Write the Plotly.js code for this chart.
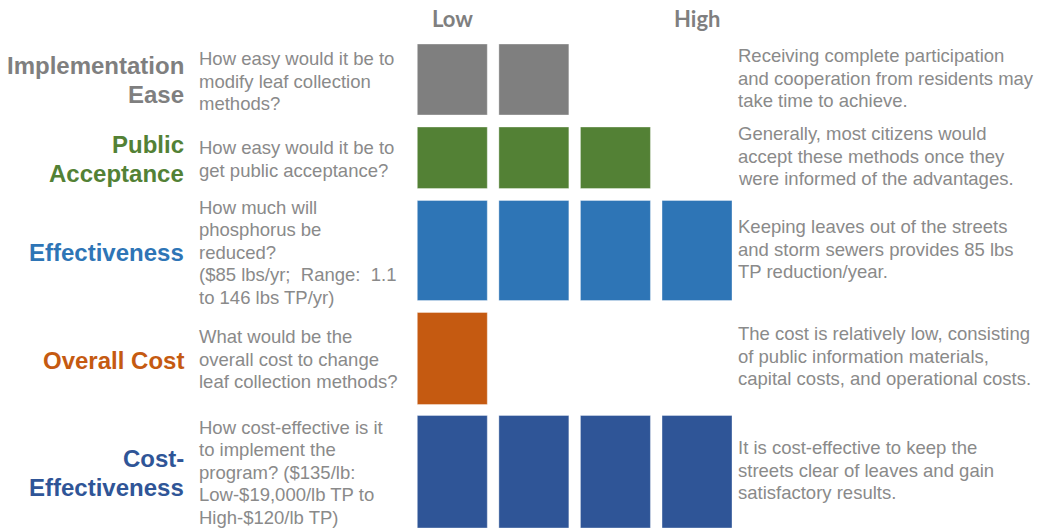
<!DOCTYPE html>
<html>
<head>
<meta charset="utf-8">
<script src="https://cdn.plot.ly/plotly-3.0.1.min.js"></script>
<style>html,body{margin:0;padding:0;background:#fff;}#chart{width:1037px;height:531px;}</style>
</head>
<body>
<div id="chart"></div>
<script>
// ---- data ----
var categories = ["Implementation<br>Ease", "Public<br>Acceptance", "Effectiveness", "Overall Cost", "Cost-<br>Effectiveness"];
var scores = [2, 3, 4, 1, 4];
var levelLabels = ["Low", "High"];
var questions = [
  "How easy would it be to<br>modify leaf collection<br>methods?",
  "How easy would it be to<br>get public acceptance?",
  "How much will<br>phosphorus be<br>reduced?<br>($85 lbs/yr;\u00a0 Range:\u00a0 1.1<br>to 146 lbs TP/yr)",
  "What would be the<br>overall cost to change<br>leaf collection methods?",
  "How cost-effective is it<br>to implement the<br>program? ($135/lb:<br>Low-$19,000/lb TP to<br>High-$120/lb TP)"
];
var comments = [
  "Receiving complete participation<br>and cooperation from residents may<br>take time to achieve.",
  "Generally, most citizens would<br>accept these methods once they<br>were informed of the advantages.",
  "Keeping leaves out of the streets<br>and storm sewers provides 85 lbs<br>TP reduction/year.",
  "The cost is relatively low, consisting<br>of public information materials,<br>capital costs, and operational costs.",
  "It is cost-effective to keep the<br>streets clear of leaves and gain<br>satisfactory results."
];

// ---- layout / style ----
var colors = ["#7f7f7f", "#538135", "#2e75b6", "#c55a11", "#2f5597"];
var rowTop = [44, 127, 200.5, 312.5, 415.5];
var rowBottom = [115, 188.5, 300.5, 404.5, 528];
var labelMid = [80, 159, 252, 360, 473];
var questionMid = [81, 159, 252, 359, 472];
var commentMid = [78, 156, 249, 356, 470];
var W = 1037, H = 531;
var FONT = "Liberation Sans, Arial, sans-serif";

var traces = [];
for (var i = 0; i < categories.length; i++) {
  var xs = [], bases = [], hs = [];
  for (var k = 1; k <= scores[i]; k++) {
    xs.push(k); bases.push(rowTop[i]); hs.push(rowBottom[i] - rowTop[i]);
  }
  traces.push({
    type: "bar", x: xs, y: hs, base: bases, width: 0.858,
    marker: {color: colors[i], line: {color: "rgba(255,255,255,0.35)", width: 1}},
    hoverinfo: "skip", showlegend: false
  });
}

var textGray = "#8a8a8a";
var annotations = [];
function addLines(text, xpx, mid, gap, anchor, font) {
  var lines = text.split("<br>");
  var n = lines.length;
  for (var j = 0; j < n; j++) {
    annotations.push({
      xref: "paper", yref: "y", x: xpx / W, y: mid + (j - (n - 1) / 2) * gap,
      xanchor: anchor, yanchor: "middle", align: anchor, text: lines[j],
      showarrow: false, borderpad: 0, font: font
    });
  }
}
for (var i = 0; i < categories.length; i++) {
  addLines("<b>" + categories[i].split("<br>").join("</b><br><b>") + "</b>", 185, labelMid[i], 28.5, "right",
    {family: FONT, size: 24, color: colors[i]});
  addLines(questions[i], 198, questionMid[i], 22.5, "left",
    {family: FONT, size: 18.5, color: textGray});
  addLines(comments[i], 737, commentMid[i], 22.8, "left",
    {family: FONT, size: 18.5, color: textGray});
}
annotations.push({
  xref: "x", yref: "y", x: 1, y: 18, xanchor: "center", yanchor: "middle",
  text: "<b>" + levelLabels[0] + "</b>", showarrow: false,
  font: {family: "Lato, Open Sans, sans-serif", size: 22, color: "#7f7f7f"}
});
annotations.push({
  xref: "x", yref: "y", x: 4, y: 18, xanchor: "center", yanchor: "middle",
  text: "<b>" + levelLabels[1] + "</b>", showarrow: false,
  font: {family: "Lato, Open Sans, sans-serif", size: 22, color: "#7f7f7f"}
});

// x: level 1 centre at 452.3px, pitch 81.57px
var pitch = 81.57, x0px = 452.3 - pitch;
var layout = {
  width: W, height: H,
  margin: {l: 0, r: 0, t: 0, b: 0},
  paper_bgcolor: "#fff", plot_bgcolor: "#fff",
  xaxis: {range: [-x0px / pitch, (W - x0px) / pitch], visible: false, fixedrange: true},
  yaxis: {range: [H, 0], visible: false, fixedrange: true},
  barmode: "overlay",
  showlegend: false,
  annotations: annotations
};

Plotly.newPlot("chart", traces, layout, {displayModeBar: false, staticPlot: true});
</script>
</body>
</html>
